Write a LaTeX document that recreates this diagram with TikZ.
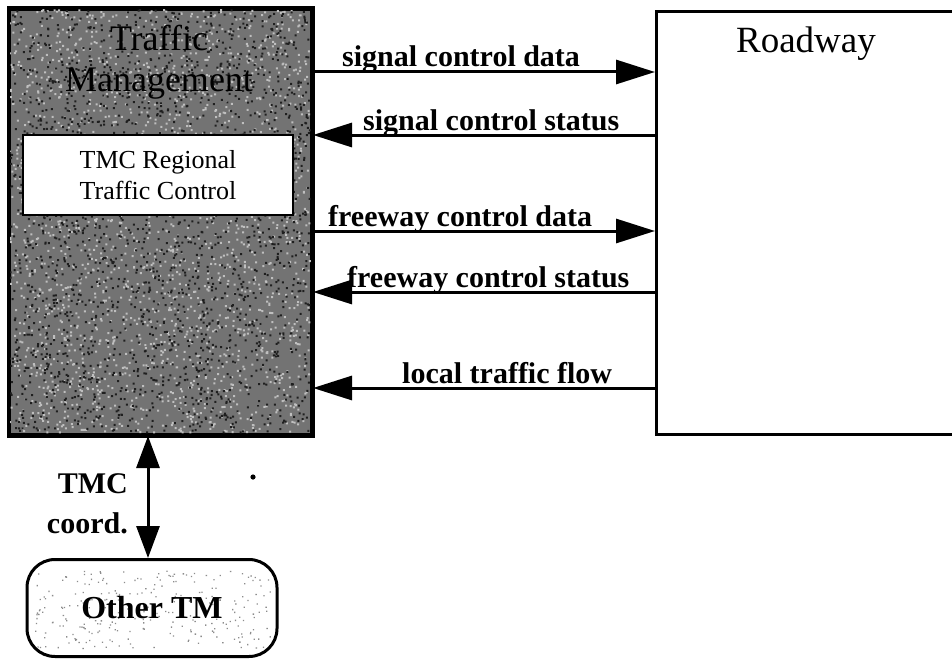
\documentclass[tikz,border=0pt]{standalone}
\usepackage{fontspec}
\setmainfont{Liberation Serif}
\usetikzlibrary{arrows.meta,positioning}

\tikzset{
  box/.style={draw=black, line width=3pt, inner sep=0pt, anchor=north west},
  flow/.style={line width=3pt, -{Triangle[length=39pt,width=24pt]}},
  flowlabel/.style={anchor=base west, inner sep=0pt,
    font=\fontsize{30}{34}\selectfont\bfseries},
}

\begin{document}
\begin{tikzpicture}[x=1pt, y=-1pt]
  \useasboundingbox (0,0) rectangle (952,658);
  \pgfmathsetseed{4242}

  % Traffic Management subsystem, with a grainy grey fill
  \node[box, fill=black!55, minimum width=302pt, minimum height=425pt] (tm) at (8,8) {};
  \begin{scope}
    \clip (tm.south west) rectangle (tm.north east);
    \fill[black!25] foreach \i in {1,...,2200} { ({9+300*rnd},{9+423*rnd}) rectangle ++(2,2) };
    \fill[black!88] foreach \i in {1,...,2200} { ({9+300*rnd},{9+423*rnd}) rectangle ++(2,2) };
  \end{scope}
  \draw[line width=3pt] (tm.south west) rectangle (tm.north east);

  \node[align=center, inner sep=0pt, font=\fontsize{36}{41}\selectfont] (tmtitle)
    at (159,62) {Traffic\\Management};

  \node[draw=black, line width=2.5pt, fill=white, minimum width=270pt, minimum height=80pt,
    align=center, inner sep=0pt, font=\fontsize{26}{31}\selectfont] (rtc)
    at (158,175) {TMC Regional\\Traffic Control};

  % Roadway subsystem (runs off the right edge)
  \node[box, fill=white, minimum width=320pt, minimum height=423pt] (road) at (655,10) {};
  \node[anchor=base, inner sep=0pt, font=\fontsize{37}{40}\selectfont] (roadtitle)
    at (806,53) {Roadway};

  % Other traffic management centre, lightly speckled
  \node[draw=black, line width=3pt, fill=white, rounded corners=28pt,
    minimum width=250pt, minimum height=97pt, inner sep=0pt] (other) at (152,608) {};
  \begin{scope}
    \clip[rounded corners=26pt] (29,562) rectangle (275,654);
    \fill[black!45] foreach \i in {1,...,260} { ({35+235*rnd},{570+78*rnd}) rectangle ++(1.3,1.3) };
  \end{scope}
  \node[inner sep=0pt, font=\fontsize{32}{36}\selectfont\bfseries] (othertext)
    at (other.center) {Other TM};

  % Flow rows
  \coordinate (r1) at (0,72);
  \coordinate (r2) at (0,135);
  \coordinate (r3) at (0,231);
  \coordinate (r4) at (0,292);
  \coordinate (r5) at (0,388);
  \coordinate (vx) at (148,0);

  \draw[flow] (tm.east |- r1) -- (road.west |- r1);
  \draw[flow] (road.west |- r2) -- (tm.east |- r2);
  \draw[flow] (tm.east |- r3) -- (road.west |- r3);
  \draw[flow] (road.west |- r4) -- (tm.east |- r4);
  \draw[flow] (road.west |- r5) -- (tm.east |- r5);

  \node[flowlabel] (l1) at (342,67) {signal control data};
  \node[flowlabel] (l2) at (363,130) {signal control status};
  \node[flowlabel] (l3) at (328,226) {freeway control data};
  \node[flowlabel] (l4) at (347,287) {freeway control status};
  \node[flowlabel] (l5) at (402,383) {local traffic flow};

  % Coordination link
  \draw[line width=3pt, {Triangle[length=32pt,width=23pt]}-{Triangle[length=32pt,width=23pt]}]
    (tm.south -| vx) -- (other.north -| vx);
  \node[anchor=base east, align=right, inner sep=0pt,
    font=\fontsize{30}{40}\selectfont\bfseries] (coord) at (128,533) {TMC\\coord.};

  \fill (253,477) circle (2.6pt);
\end{tikzpicture}
\end{document}
